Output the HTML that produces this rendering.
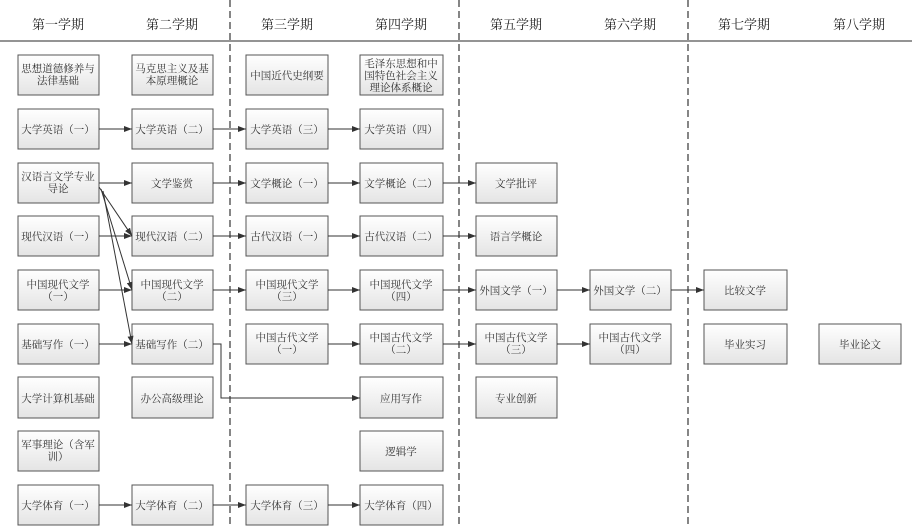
<!DOCTYPE html>
<html><head><meta charset="utf-8"><style>
html,body{margin:0;padding:0;background:#fff;}
svg{display:block;font-family:"Liberation Serif","Noto Serif CJK SC","Noto Sans CJK SC",serif;}
</style></head><body>
<svg width="912" height="528" viewBox="0 0 912 528" xmlns="http://www.w3.org/2000/svg">
<defs>
<linearGradient id="g" x1="0" y1="0" x2="0" y2="1"><stop offset="0" stop-color="#ffffff"/><stop offset="1" stop-color="#e4e4e4"/></linearGradient>
<marker id="a" markerWidth="8" markerHeight="6" refX="8" refY="3" orient="auto" markerUnits="userSpaceOnUse"><path d="M0,0 L8,3 L0,6 z" fill="#333"/></marker>
</defs>
<g font-size="13" fill="#222" text-anchor="middle">
<text x="58" y="29">第一学期</text><text x="172" y="29">第二学期</text><text x="287" y="29">第三学期</text><text x="401" y="29">第四学期</text>
<text x="516" y="29">第五学期</text><text x="630" y="29">第六学期</text><text x="744" y="29">第七学期</text><text x="859" y="29">第八学期</text>
</g>
<line x1="0" y1="41" x2="912" y2="41" stroke="#555" stroke-width="1.2"/>
<g stroke="#444" stroke-width="1.3" stroke-dasharray="7,4">
<line x1="230" y1="0" x2="230" y2="528"/><line x1="459" y1="0" x2="459" y2="528"/><line x1="688" y1="0" x2="688" y2="528"/>
</g>
<g fill="url(#g)" stroke="#555" stroke-width="1">
<rect x="18" y="55" width="81" height="40"/><rect x="132" y="55" width="81" height="40"/><rect x="246" y="55" width="82" height="40"/><rect x="360" y="55" width="83" height="40"/>
<rect x="18" y="109" width="81" height="40"/><rect x="132" y="109" width="81" height="40"/><rect x="246" y="109" width="82" height="40"/><rect x="360" y="109" width="83" height="40"/>
<rect x="18" y="163" width="81" height="40"/><rect x="132" y="163" width="81" height="40"/><rect x="246" y="163" width="82" height="40"/><rect x="360" y="163" width="83" height="40"/><rect x="476" y="163" width="81" height="40"/>
<rect x="18" y="216" width="81" height="40"/><rect x="132" y="216" width="81" height="40"/><rect x="246" y="216" width="82" height="40"/><rect x="360" y="216" width="83" height="40"/><rect x="476" y="216" width="81" height="40"/>
<rect x="18" y="270" width="81" height="40"/><rect x="132" y="270" width="81" height="40"/><rect x="246" y="270" width="82" height="40"/><rect x="360" y="270" width="83" height="40"/><rect x="476" y="270" width="81" height="40"/><rect x="590" y="270" width="81" height="40"/><rect x="704" y="270" width="83" height="40"/>
<rect x="18" y="324" width="81" height="40"/><rect x="132" y="324" width="81" height="40"/><rect x="246" y="324" width="82" height="40"/><rect x="360" y="324" width="83" height="40"/><rect x="476" y="324" width="81" height="40"/><rect x="590" y="324" width="81" height="40"/><rect x="704" y="324" width="83" height="40"/><rect x="819" y="324" width="82" height="40"/>
<rect x="18" y="377" width="81" height="41"/><rect x="132" y="377" width="81" height="41"/><rect x="360" y="377" width="83" height="41"/><rect x="476" y="377" width="81" height="41"/>
<rect x="18" y="431" width="81" height="40"/><rect x="360" y="431" width="83" height="40"/>
<rect x="18" y="485" width="81" height="40"/><rect x="132" y="485" width="81" height="40"/><rect x="246" y="485" width="82" height="40"/><rect x="360" y="485" width="83" height="40"/>
</g>
<g stroke="#333" stroke-width="1" fill="none" marker-end="url(#a)">
<line x1="99" y1="129" x2="132" y2="129"/><line x1="213" y1="129" x2="246" y2="129"/><line x1="328" y1="129" x2="360" y2="129"/>
<line x1="99" y1="183" x2="132" y2="183"/><line x1="213" y1="183" x2="246" y2="183"/><line x1="328" y1="183" x2="360" y2="183"/><line x1="443" y1="183" x2="476" y2="183"/>
<line x1="99" y1="236" x2="132" y2="236"/><line x1="213" y1="236" x2="246" y2="236"/><line x1="328" y1="236" x2="360" y2="236"/><line x1="443" y1="236" x2="476" y2="236"/>
<line x1="99" y1="290" x2="132" y2="290"/><line x1="213" y1="290" x2="246" y2="290"/><line x1="328" y1="290" x2="360" y2="290"/><line x1="443" y1="290" x2="476" y2="290"/><line x1="557" y1="290" x2="590" y2="290"/><line x1="671" y1="290" x2="704" y2="290"/>
<line x1="99" y1="344" x2="132" y2="344"/><line x1="328" y1="344" x2="360" y2="344"/><line x1="443" y1="344" x2="476" y2="344"/><line x1="557" y1="344" x2="590" y2="344"/>
<line x1="99" y1="505" x2="132" y2="505"/><line x1="213" y1="505" x2="246" y2="505"/><line x1="328" y1="505" x2="360" y2="505"/>
<line x1="99" y1="187" x2="132" y2="236"/><line x1="101" y1="189" x2="132" y2="290"/><line x1="103" y1="191" x2="132" y2="344"/>
<polyline points="213,344 221,344 221,398 360,398"/>
</g>
<g font-size="10.5" fill="#333" text-anchor="middle">
<text x="58" y="72">思想道德修养与</text><text x="58" y="84">法律基础</text>
<text x="172" y="72">马克思主义及基</text><text x="172" y="84">本原理概论</text>
<text x="287" y="79">中国近代史纲要</text>
<text x="401" y="67">毛泽东思想和中</text><text x="401" y="79">国特色社会主义</text><text x="401" y="91">理论体系概论</text>
<text x="58" y="133">大学英语（一）</text><text x="172" y="133">大学英语（二）</text><text x="287" y="133">大学英语（三）</text><text x="401" y="133">大学英语（四）</text>
<text x="58" y="180">汉语言文学专业</text><text x="58" y="192">导论</text>
<text x="172" y="187">文学鉴赏</text><text x="287" y="187">文学概论（一）</text><text x="401" y="187">文学概论（二）</text><text x="516" y="187">文学批评</text>
<text x="58" y="240">现代汉语（一）</text><text x="172" y="240">现代汉语（二）</text><text x="287" y="240">古代汉语（一）</text><text x="401" y="240">古代汉语（二）</text><text x="516" y="240">语言学概论</text>
<text x="58" y="288">中国现代文学</text><text x="58" y="300">（一）</text>
<text x="172" y="288">中国现代文学</text><text x="172" y="300">（二）</text>
<text x="287" y="288">中国现代文学</text><text x="287" y="300">（三）</text>
<text x="401" y="288">中国现代文学</text><text x="401" y="300">（四）</text>
<text x="516" y="294">外国文学（一）</text><text x="630" y="294">外国文学（二）</text><text x="745" y="294">比较文学</text>
<text x="58" y="348">基础写作（一）</text><text x="172" y="348">基础写作（二）</text>
<text x="287" y="341">中国古代文学</text><text x="287" y="353">（一）</text>
<text x="401" y="341">中国古代文学</text><text x="401" y="353">（二）</text>
<text x="516" y="341">中国古代文学</text><text x="516" y="353">（三）</text>
<text x="630" y="341">中国古代文学</text><text x="630" y="353">（四）</text>
<text x="745" y="348">毕业实习</text><text x="860" y="348">毕业论文</text>
<text x="58" y="402">大学计算机基础</text><text x="172" y="402">办公高级理论</text><text x="401" y="402">应用写作</text><text x="516" y="402">专业创新</text>
<text x="58" y="448">军事理论（含军</text><text x="58" y="460">训）</text><text x="401" y="455">逻辑学</text>
<text x="58" y="509">大学体育（一）</text><text x="172" y="509">大学体育（二）</text><text x="287" y="509">大学体育（三）</text><text x="401" y="509">大学体育（四）</text>
</g>
</svg>
</body></html>
